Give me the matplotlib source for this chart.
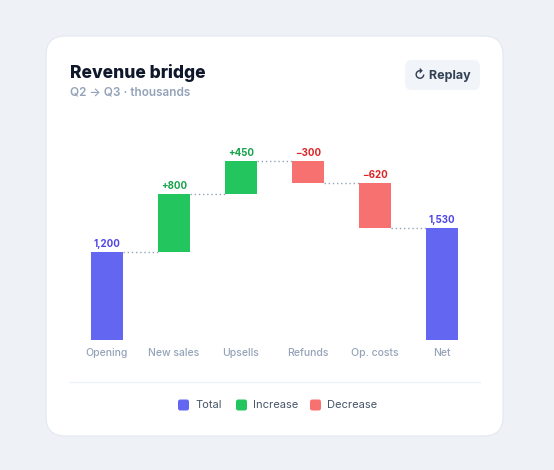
import matplotlib
matplotlib.use("Agg")
import matplotlib.pyplot as plt
from matplotlib.patches import FancyBboxPatch
from matplotlib.lines import Line2D

categories = ["Opening", "New sales", "Upsells", "Refunds", "Op. costs", "Net"]
deltas = [1200, 800, 450, -300, -620, 1530]
kinds = ["total", "inc", "inc", "dec", "dec", "total"]
labels = ["1,200", "+800", "+450", "\u2212300", "\u2212620", "1,530"]

colors = {"total": "#6366f1", "inc": "#22c55e", "dec": "#f87171"}
tcolors = {"total": "#4f46e5", "inc": "#16a34a", "dec": "#dc2626"}
W, H = 554, 470
fig = plt.figure(figsize=(W/100, H/100), dpi=100)
fig.patch.set_facecolor("#eef2f7")

def px(x, y):
    return x / W, 1 - y / H

card = FancyBboxPatch(px(46, 436), 457/W, 400/H, boxstyle="round,pad=0,rounding_size=0.035",
                      transform=fig.transFigure, fc="white", ec="#e2e8f0", lw=0.8,
                      mutation_aspect=W/H)
fig.patches.append(card)
fig.text(*px(70, 73), "Revenue bridge", fontsize=12.5, fontweight="heavy", color="#0f172a", va="center", family="Inter")
fig.text(*px(70, 93), "Q2 \u2192 Q3 \u00b7 thousands", fontsize=8.5, fontweight="semibold", color="#94a3b8", va="center", family="Inter")
btn = FancyBboxPatch(px(405, 90), 75/W, 30/H, boxstyle="round,pad=0,rounding_size=0.012",
                     transform=fig.transFigure, fc="#f1f5f9", ec="none", mutation_aspect=W/H)
fig.patches.append(btn)
fig.text(*px(442.5, 75), "\u21bb Replay", fontsize=9, fontweight="bold", color="#334155", ha="center", va="center", family=["Inter", "DejaVu Sans"])

ax = fig.add_axes([73.5/W, 1 - 340/H, 402/W, 210/H])
ax.set_zorder(5)
ax.patch.set_alpha(0)
ax.set_xlim(-0.5, 5.5)
ax.set_ylim(0, 2870)
ax.axis("off")

run = 0
tops = []
for i, (d, k) in enumerate(zip(deltas, kinds)):
    if k == "total":
        bottom, height = 0, d
        run = d
    else:
        bottom = run if d > 0 else run + d
        height = abs(d)
        run += d
    ax.bar(i, height, bottom=bottom, width=0.49, color=colors[k])
    top = bottom + height
    ax.text(i, top + 40, labels[i], ha="center", va="bottom", fontsize=7, fontweight="bold", color=tcolors[k], family="Inter")
    ax.text(i, -110, categories[i], ha="center", va="top", fontsize=7.5, fontweight="medium", color="#94a3b8", family="Inter", clip_on=False)
    tops.append(run)
for i in range(5):
    ax.plot([i + 0.245, i + 1 - 0.245], [tops[i]] * 2, ls=(0, (1, 2)), color="#94a3b8", lw=1)

fig.add_artist(Line2D([70/W, 480/W], [1 - 382/H] * 2, color="#eef2f7", lw=1))
items = [("Total", colors["total"], 178), ("Increase", colors["inc"], 236), ("Decrease", colors["dec"], 310)]
for name, c, x in items:
    sq = FancyBboxPatch(px(x, 410.5), 11/W, 11/H, boxstyle="round,pad=0,rounding_size=0.004",
                        transform=fig.transFigure, fc=c, ec="none", mutation_aspect=W/H)
    fig.patches.append(sq)
    fig.text(*px(x + 17, 405), name, fontsize=8, color="#475569", va="center", family="Inter")

fig.savefig("out.png", dpi=100, facecolor=fig.get_facecolor())
